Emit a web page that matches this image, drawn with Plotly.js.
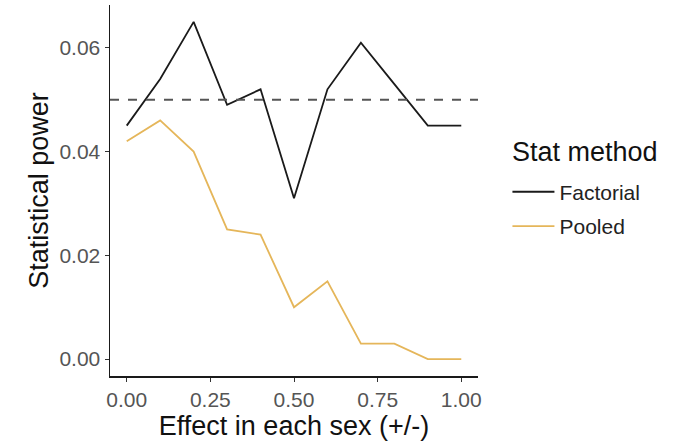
<!DOCTYPE html>
<html>
<head>
<meta charset="utf-8">
<script src="https://cdn.plot.ly/plotly-3.0.1.min.js"></script>
<style>html,body{margin:0;padding:0;background:#fff;}#chart{width:695px;height:441px;}</style>
</head>
<body>
<div id="chart"></div>
<script>
const effect = [0.0, 0.1, 0.2, 0.3, 0.4, 0.5, 0.6, 0.7, 0.8, 0.9, 1.0];
const factorial = [0.045, 0.054, 0.065, 0.049, 0.052, 0.031, 0.052, 0.061, 0.053, 0.045, 0.045];
const pooled = [0.042, 0.046, 0.040, 0.025, 0.024, 0.010, 0.015, 0.003, 0.003, 0.000, 0.000];
const xTicks = [0, 0.25, 0.5, 0.75, 1.0];
const xTickLabels = ["0.00", "0.25", "0.50", "0.75", "1.00"];
const yTicks = [0, 0.02, 0.04, 0.06];
const yTickLabels = ["0.00", "0.02", "0.04", "0.06"];
const alphaLevel = 0.05;
const legendTitle = 'Stat method';

const font = "Liberation Sans, Arial, sans-serif";
const traces = [
  {x: effect, y: factorial, type: 'scatter', mode: 'lines', name: 'Factorial', legendgroup: 'a',
   line: {color: '#1a1a1a', width: 1.8}},
  {x: effect, y: pooled, type: 'scatter', mode: 'lines', name: 'Pooled', legendgroup: 'b',
   line: {color: '#E5B65A', width: 1.8}}
];
const layout = {
  width: 695, height: 441,
  margin: {l: 110, r: 217, t: 5, b: 65},
  paper_bgcolor: '#fff', plot_bgcolor: '#fff',
  font: {family: font},
  xaxis: {
    range: [-0.05, 1.05], tickvals: xTicks, ticktext: xTickLabels,
    showgrid: false, zeroline: false, showline: true, linecolor: '#1a1a1a', linewidth: 1.5,
    ticks: 'outside', ticklen: 4, tickcolor: '#333', tickwidth: 1,
    tickfont: {size: 21, color: '#555'},
    title: {text: 'Effect in each sex (+/-)', font: {size: 27, color: '#111'}, standoff: 1}
  },
  yaxis: {
    range: [-0.00325, 0.06825], tickvals: yTicks, ticktext: yTickLabels,
    showgrid: false, zeroline: false, showline: true, linecolor: '#1a1a1a', linewidth: 1.5,
    ticks: 'outside', ticklen: 4, tickcolor: '#333', tickwidth: 1,
    tickfont: {size: 21, color: '#555'},
    title: {text: 'Statistical power', font: {size: 27, color: '#111'}, standoff: 3}
  },
  shapes: [{type: 'line', xref: 'paper', x0: 0, x1: 1, yref: 'y', y0: alphaLevel, y1: alphaLevel,
            line: {color: '#555', width: 2, dash: 'dash'}}],
  annotations: [{text: legendTitle, xref: 'paper', yref: 'paper', x: 1.087, y: 0.604,
                 xanchor: 'left', yanchor: 'middle', showarrow: false,
                 font: {size: 27, color: '#111'}}],
  legend: {
    x: 1.08, xanchor: 'left', y: 0.551, yanchor: 'top',
    font: {size: 21, color: '#222'}, itemwidth: 42, tracegroupgap: 4, traceorder: 'grouped'
  },
  showlegend: true
};
Plotly.newPlot('chart', traces, layout, {displayModeBar: false, staticPlot: true});
</script>
</body>
</html>
